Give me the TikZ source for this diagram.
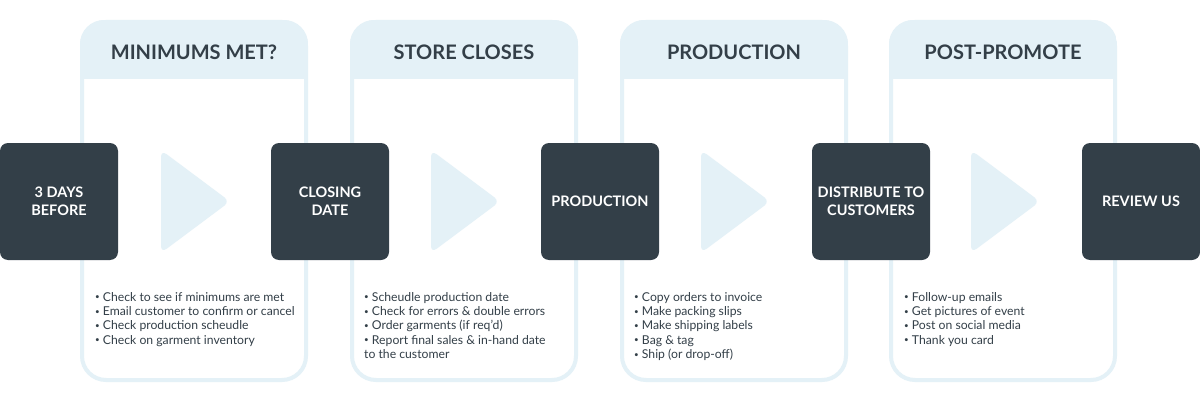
\documentclass[tikz,border=0pt]{standalone}
\usepackage{fontspec}
\setmainfont{Lato}
\definecolor{dark}{HTML}{333F48}
\definecolor{pale}{HTML}{E4F1F7}
\newcommand\bl{\raisebox{0.2ex}{\fontsize{8}{8}\selectfont\textbullet}\ }
\tikzset{
  stepbox/.style={fill=dark, rounded corners=8pt, minimum width=118pt, minimum height=117pt, inner sep=0pt,
    text=white, align=center, font=\fontsize{14.5}{18}\selectfont\bfseries},
  hdr/.style={text=dark, font=\fontsize{20}{24}\selectfont\bfseries, inner sep=0pt},
  bullets/.style={anchor=north west, text=dark, align=left, inner sep=0pt, font=\fontsize{12.2}{14.3}\selectfont},
  panel/.style={draw=pale, line width=4pt, rounded corners=24pt},
  tri/.style={fill=pale, rounded corners=7pt}
}
\begin{document}
\begin{tikzpicture}[x=1pt,y=-1pt]
\useasboundingbox[fill=white] (0,0) rectangle (1200,404);
% panels
\foreach \x in {80,350,620,889}{
  \begin{scope}
    \clip[rounded corners=24pt] (\x,20) rectangle (\x+228,382);
    \fill[pale] (\x,20) rectangle (\x+228,79);
  \end{scope}
  \draw[panel] (\x+2,22) rectangle (\x+226,380);
}
% triangles
\foreach \x in {161,431,701,971}{
  \fill[tri] (\x,150) -- (\x+69,201.5) -- (\x,253) -- cycle;
}
% headers
\node[hdr] (h1) at (194,52) {MINIMUMS MET?};
\node[hdr] (h2) at (464,52) {STORE CLOSES};
\node[hdr] (h3) at (734,52) {PRODUCTION};
\node[hdr] (h4) at (1003,52) {POST-PROMOTE};
% step boxes
\node[stepbox] (b1) at (59,201.5) {3 DAYS\\BEFORE};
\node[stepbox] (b2) at (330,201.5) {CLOSING\\DATE};
\node[stepbox] (b3) at (600,201.5) {PRODUCTION};
\node[stepbox] (b4) at (871,201.5) {DISTRIBUTE TO\\CUSTOMERS};
\node[stepbox] (b5) at (1141,201.5) {REVIEW US};
% bullet lists
\node[bullets] (l1) at (95,292) {\bl Check to see if minimums are met\\\bl Email customer to confirm or cancel\\\bl Check production scheudle\\\bl Check on garment inventory};
\node[bullets] (l2) at (364,292) {\bl Scheudle production date\\\bl Check for errors \& double errors\\\bl Order garments (if req'd)\\\bl Report final sales \& in-hand date\\to the customer};
\node[bullets] (l3) at (634,292) {\bl Copy orders to invoice\\\bl Make packing slips\\\bl Make shipping labels\\\bl Bag \& tag\\\bl Ship (or drop-off)};
\node[bullets] (l4) at (904,292) {\bl Follow-up emails\\\bl Get pictures of event\\\bl Post on social media\\\bl Thank you card};
\end{tikzpicture}
\end{document}
